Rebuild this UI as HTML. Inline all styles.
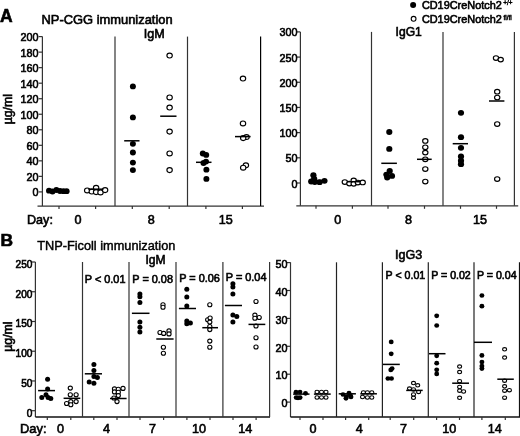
<!DOCTYPE html>
<html><head><meta charset="utf-8"><style>
html,body{margin:0;padding:0;background:#fff;}
body{width:520px;height:436px;overflow:hidden;}
svg{display:block;font-family:"Liberation Sans", sans-serif;fill:#000;}
body{-webkit-font-smoothing:antialiased;}
#wrap{transform:translateZ(0);will-change:transform;}
text{fill:#000;stroke:#000;stroke-width:0.6px;}
</style></head><body>
<div id="wrap"><svg width="520" height="436" viewBox="0 0 520 436">
<rect width="520" height="436" fill="#fff"/>
<text x="0" y="21.5" font-size="17.5" text-anchor="start" font-weight="bold" >A</text>
<text x="41.5" y="23.8" font-size="12.9" text-anchor="start" font-weight="normal" >NP-CGG immunization</text>
<text x="143.7" y="37.8" font-size="12.6" text-anchor="start" font-weight="normal" >IgM</text>
<text x="395.6" y="36.2" font-size="12.1" text-anchor="start" font-weight="normal" >IgG1</text>
<circle cx="413.1" cy="4.9" r="3" fill="#000"/>
<text x="421.9" y="9.2" font-size="10.9" text-anchor="start" font-weight="normal" >CD19CreNotch2</text>
<text x="503.3" y="5.4" font-size="6.4" text-anchor="start" font-weight="normal" style="stroke-width:0.45px">+/+</text>
<circle cx="413.6" cy="18.8" r="2.4" fill="#fff" stroke="#000" stroke-width="1.1"/>
<text x="421.9" y="23.0" font-size="10.9" text-anchor="start" font-weight="normal" >CD19CreNotch2</text>
<text x="503.6" y="19.8" font-size="6.4" text-anchor="start" font-weight="normal" style="stroke-width:0.45px">fl/fl</text>
<line x1="42.4" y1="36.6" x2="42.4" y2="206.1" stroke="#333" stroke-width="1.2"/>
<line x1="37.5" y1="206.1" x2="264" y2="206.1" stroke="#333" stroke-width="1.2"/>
<line x1="115" y1="36.6" x2="115" y2="206.1" stroke="#333" stroke-width="1.2"/>
<line x1="187.5" y1="36.6" x2="187.5" y2="206.1" stroke="#333" stroke-width="1.2"/>
<line x1="260.6" y1="36.6" x2="260.6" y2="206.1" stroke="#000" stroke-width="1.2"/>
<line x1="59.0" y1="206.1" x2="59.0" y2="209.1" stroke="#333" stroke-width="1.2"/>
<line x1="95.6" y1="206.1" x2="95.6" y2="209.1" stroke="#333" stroke-width="1.2"/>
<line x1="132.3" y1="206.1" x2="132.3" y2="209.1" stroke="#333" stroke-width="1.2"/>
<line x1="169.2" y1="206.1" x2="169.2" y2="209.1" stroke="#333" stroke-width="1.2"/>
<line x1="205.9" y1="206.1" x2="205.9" y2="209.1" stroke="#333" stroke-width="1.2"/>
<line x1="242.4" y1="206.1" x2="242.4" y2="209.1" stroke="#333" stroke-width="1.2"/>
<line x1="38.6" y1="191.9" x2="42.4" y2="191.9" stroke="#333" stroke-width="1.2"/>
<text x="38.6" y="196.3" font-size="10.8" text-anchor="end" font-weight="normal" >0</text>
<line x1="38.6" y1="176.37" x2="42.4" y2="176.37" stroke="#333" stroke-width="1.2"/>
<text x="38.6" y="180.77" font-size="10.8" text-anchor="end" font-weight="normal" >20</text>
<line x1="38.6" y1="160.84" x2="42.4" y2="160.84" stroke="#333" stroke-width="1.2"/>
<text x="38.6" y="165.24" font-size="10.8" text-anchor="end" font-weight="normal" >40</text>
<line x1="38.6" y1="145.31" x2="42.4" y2="145.31" stroke="#333" stroke-width="1.2"/>
<text x="38.6" y="149.71" font-size="10.8" text-anchor="end" font-weight="normal" >60</text>
<line x1="38.6" y1="129.78" x2="42.4" y2="129.78" stroke="#333" stroke-width="1.2"/>
<text x="38.6" y="134.18" font-size="10.8" text-anchor="end" font-weight="normal" >80</text>
<line x1="38.6" y1="114.25000000000001" x2="42.4" y2="114.25000000000001" stroke="#333" stroke-width="1.2"/>
<text x="38.6" y="118.65" font-size="10.8" text-anchor="end" font-weight="normal" >100</text>
<line x1="38.6" y1="98.72000000000001" x2="42.4" y2="98.72000000000001" stroke="#333" stroke-width="1.2"/>
<text x="38.6" y="103.12" font-size="10.8" text-anchor="end" font-weight="normal" >120</text>
<line x1="38.6" y1="83.19000000000001" x2="42.4" y2="83.19000000000001" stroke="#333" stroke-width="1.2"/>
<text x="38.6" y="87.59" font-size="10.8" text-anchor="end" font-weight="normal" >140</text>
<line x1="38.6" y1="67.66000000000001" x2="42.4" y2="67.66000000000001" stroke="#333" stroke-width="1.2"/>
<text x="38.6" y="72.06" font-size="10.8" text-anchor="end" font-weight="normal" >160</text>
<line x1="38.6" y1="52.130000000000024" x2="42.4" y2="52.130000000000024" stroke="#333" stroke-width="1.2"/>
<text x="38.6" y="56.53" font-size="10.8" text-anchor="end" font-weight="normal" >180</text>
<line x1="38.6" y1="36.60000000000002" x2="42.4" y2="36.60000000000002" stroke="#333" stroke-width="1.2"/>
<text x="38.6" y="41.0" font-size="10.8" text-anchor="end" font-weight="normal" >200</text>
<line x1="300.4" y1="31.9" x2="300.4" y2="205.8" stroke="#333" stroke-width="1.2"/>
<line x1="296.3" y1="205.8" x2="518.2" y2="205.8" stroke="#333" stroke-width="1.2"/>
<line x1="371.5" y1="31.9" x2="371.5" y2="205.8" stroke="#333" stroke-width="1.2"/>
<line x1="443.0" y1="31.9" x2="443.0" y2="205.8" stroke="#333" stroke-width="1.2"/>
<line x1="514.4" y1="31.9" x2="514.4" y2="205.8" stroke="#333" stroke-width="1.2"/>
<line x1="316.0" y1="205.8" x2="316.0" y2="208.8" stroke="#333" stroke-width="1.2"/>
<line x1="352.4" y1="205.8" x2="352.4" y2="208.8" stroke="#333" stroke-width="1.2"/>
<line x1="388.0" y1="205.8" x2="388.0" y2="208.8" stroke="#333" stroke-width="1.2"/>
<line x1="424.5" y1="205.8" x2="424.5" y2="208.8" stroke="#333" stroke-width="1.2"/>
<line x1="460.5" y1="205.8" x2="460.5" y2="208.8" stroke="#333" stroke-width="1.2"/>
<line x1="496.5" y1="205.8" x2="496.5" y2="208.8" stroke="#333" stroke-width="1.2"/>
<line x1="296.59999999999997" y1="183.0" x2="300.4" y2="183.0" stroke="#333" stroke-width="1.2"/>
<text x="297.6" y="187.6" font-size="10.8" text-anchor="end" font-weight="normal" >0</text>
<line x1="296.59999999999997" y1="157.815" x2="300.4" y2="157.815" stroke="#333" stroke-width="1.2"/>
<text x="297.6" y="162.41" font-size="10.8" text-anchor="end" font-weight="normal" >50</text>
<line x1="296.59999999999997" y1="132.63" x2="300.4" y2="132.63" stroke="#333" stroke-width="1.2"/>
<text x="297.6" y="137.23" font-size="10.8" text-anchor="end" font-weight="normal" >100</text>
<line x1="296.59999999999997" y1="107.445" x2="300.4" y2="107.445" stroke="#333" stroke-width="1.2"/>
<text x="297.6" y="112.04" font-size="10.8" text-anchor="end" font-weight="normal" >150</text>
<line x1="296.59999999999997" y1="82.25999999999999" x2="300.4" y2="82.25999999999999" stroke="#333" stroke-width="1.2"/>
<text x="297.6" y="86.86" font-size="10.8" text-anchor="end" font-weight="normal" >200</text>
<line x1="296.59999999999997" y1="57.07499999999999" x2="300.4" y2="57.07499999999999" stroke="#333" stroke-width="1.2"/>
<text x="297.6" y="61.67" font-size="10.8" text-anchor="end" font-weight="normal" >250</text>
<line x1="296.59999999999997" y1="31.889999999999986" x2="300.4" y2="31.889999999999986" stroke="#333" stroke-width="1.2"/>
<text x="297.6" y="36.49" font-size="10.8" text-anchor="end" font-weight="normal" >300</text>
<text x="27" y="223.6" font-size="12.6" text-anchor="start" font-weight="normal" >Day:</text>
<text x="78.1" y="223.6" font-size="12.6" text-anchor="middle" font-weight="normal" >0</text>
<text x="151.25" y="223.6" font-size="12.6" text-anchor="middle" font-weight="normal" >8</text>
<text x="225.7" y="223.6" font-size="12.6" text-anchor="middle" font-weight="normal" >15</text>
<text x="337.75" y="223.6" font-size="12.6" text-anchor="middle" font-weight="normal" >0</text>
<text x="408.5" y="223.6" font-size="12.6" text-anchor="middle" font-weight="normal" >8</text>
<text x="480.1" y="223.6" font-size="12.6" text-anchor="middle" font-weight="normal" >15</text>
<text transform="translate(12,109.2) rotate(-90)" font-size="12.3" text-anchor="middle">µg/ml</text>
<text transform="translate(11.5,336.6) rotate(-90)" font-size="12.3" text-anchor="middle">µg/ml</text>
<ellipse cx="49" cy="190.7" rx="3.0" ry="2.9" fill="#000"/>
<ellipse cx="52.5" cy="191.5" rx="3.0" ry="2.9" fill="#000"/>
<ellipse cx="56.4" cy="190" rx="3.0" ry="2.9" fill="#000"/>
<ellipse cx="60" cy="191" rx="3.0" ry="2.9" fill="#000"/>
<ellipse cx="63.5" cy="191.2" rx="3.0" ry="2.9" fill="#000"/>
<ellipse cx="66.6" cy="191.2" rx="3.0" ry="2.9" fill="#000"/>
<line x1="47" y1="190.8" x2="68" y2="190.8" stroke="#000" stroke-width="1.5"/>
<ellipse cx="87.2" cy="190.4" rx="2.7" ry="2.45" fill="#fff" stroke="#000" stroke-width="1.15"/>
<ellipse cx="91.8" cy="191.5" rx="2.7" ry="2.45" fill="#fff" stroke="#000" stroke-width="1.15"/>
<ellipse cx="96.1" cy="187.8" rx="2.7" ry="2.45" fill="#fff" stroke="#000" stroke-width="1.15"/>
<ellipse cx="96.1" cy="192.1" rx="2.7" ry="2.45" fill="#fff" stroke="#000" stroke-width="1.15"/>
<ellipse cx="100.5" cy="192.4" rx="2.7" ry="2.45" fill="#fff" stroke="#000" stroke-width="1.15"/>
<ellipse cx="105.1" cy="190.1" rx="2.7" ry="2.45" fill="#fff" stroke="#000" stroke-width="1.15"/>
<line x1="88.3" y1="189.2" x2="103.4" y2="189.2" stroke="#000" stroke-width="1.5"/>
<ellipse cx="132.9" cy="86.4" rx="3.0" ry="2.9" fill="#000"/>
<ellipse cx="132.9" cy="117.4" rx="3.0" ry="2.9" fill="#000"/>
<ellipse cx="132.9" cy="143.8" rx="3.0" ry="2.9" fill="#000"/>
<ellipse cx="132.9" cy="152.5" rx="3.0" ry="2.9" fill="#000"/>
<ellipse cx="132.9" cy="162.6" rx="3.0" ry="2.9" fill="#000"/>
<ellipse cx="132.9" cy="170.1" rx="3.0" ry="2.9" fill="#000"/>
<line x1="124.2" y1="140.8" x2="139.5" y2="140.8" stroke="#000" stroke-width="1.5"/>
<ellipse cx="169.6" cy="55.5" rx="2.7" ry="2.45" fill="#fff" stroke="#000" stroke-width="1.15"/>
<ellipse cx="169.6" cy="97.4" rx="2.7" ry="2.45" fill="#fff" stroke="#000" stroke-width="1.15"/>
<ellipse cx="169.6" cy="107.5" rx="2.7" ry="2.45" fill="#fff" stroke="#000" stroke-width="1.15"/>
<ellipse cx="169.6" cy="131.6" rx="2.7" ry="2.45" fill="#fff" stroke="#000" stroke-width="1.15"/>
<ellipse cx="169.6" cy="153.4" rx="2.7" ry="2.45" fill="#fff" stroke="#000" stroke-width="1.15"/>
<ellipse cx="169.6" cy="170.1" rx="2.7" ry="2.45" fill="#fff" stroke="#000" stroke-width="1.15"/>
<line x1="160.2" y1="116.2" x2="176.5" y2="116.2" stroke="#000" stroke-width="1.5"/>
<ellipse cx="202.8" cy="153.5" rx="3.0" ry="2.9" fill="#000"/>
<ellipse cx="206.2" cy="154.9" rx="3.0" ry="2.9" fill="#000"/>
<ellipse cx="206" cy="161.6" rx="3.0" ry="2.9" fill="#000"/>
<ellipse cx="203.5" cy="163" rx="3.0" ry="2.9" fill="#000"/>
<ellipse cx="206.4" cy="169.7" rx="3.0" ry="2.9" fill="#000"/>
<ellipse cx="206.4" cy="178.9" rx="3.0" ry="2.9" fill="#000"/>
<line x1="196" y1="162.3" x2="211.5" y2="162.3" stroke="#000" stroke-width="1.5"/>
<ellipse cx="243" cy="78.5" rx="2.7" ry="2.45" fill="#fff" stroke="#000" stroke-width="1.15"/>
<ellipse cx="243" cy="123.4" rx="2.7" ry="2.45" fill="#fff" stroke="#000" stroke-width="1.15"/>
<ellipse cx="246.5" cy="137" rx="2.7" ry="2.45" fill="#fff" stroke="#000" stroke-width="1.15"/>
<ellipse cx="243.2" cy="138.1" rx="2.7" ry="2.45" fill="#fff" stroke="#000" stroke-width="1.15"/>
<ellipse cx="245.9" cy="165.3" rx="2.7" ry="2.45" fill="#fff" stroke="#000" stroke-width="1.15"/>
<ellipse cx="243.2" cy="167.7" rx="2.7" ry="2.45" fill="#fff" stroke="#000" stroke-width="1.15"/>
<line x1="235" y1="136.6" x2="250.6" y2="136.6" stroke="#000" stroke-width="1.5"/>
<ellipse cx="313.4" cy="175.2" rx="3.1" ry="2.9" fill="#000"/>
<ellipse cx="314.2" cy="178.8" rx="3.1" ry="2.9" fill="#000"/>
<ellipse cx="311.2" cy="181.5" rx="3.1" ry="2.9" fill="#000"/>
<ellipse cx="314.8" cy="182" rx="3.1" ry="2.9" fill="#000"/>
<ellipse cx="319.6" cy="182.2" rx="3.1" ry="2.9" fill="#000"/>
<ellipse cx="324.5" cy="180.8" rx="3.1" ry="2.9" fill="#000"/>
<line x1="310" y1="180.5" x2="322" y2="180.5" stroke="#000" stroke-width="1.5"/>
<ellipse cx="344.8" cy="182" rx="2.65" ry="2.3" fill="#fff" stroke="#000" stroke-width="1.15"/>
<ellipse cx="349.4" cy="183.5" rx="2.65" ry="2.3" fill="#fff" stroke="#000" stroke-width="1.15"/>
<ellipse cx="353.7" cy="180.4" rx="2.65" ry="2.3" fill="#fff" stroke="#000" stroke-width="1.15"/>
<ellipse cx="353.7" cy="183.8" rx="2.65" ry="2.3" fill="#fff" stroke="#000" stroke-width="1.15"/>
<ellipse cx="357.9" cy="182.5" rx="2.65" ry="2.3" fill="#fff" stroke="#000" stroke-width="1.15"/>
<ellipse cx="362.7" cy="182.4" rx="2.65" ry="2.3" fill="#fff" stroke="#000" stroke-width="1.15"/>
<line x1="347" y1="181.7" x2="360.5" y2="181.7" stroke="#000" stroke-width="1.5"/>
<ellipse cx="389.3" cy="132" rx="3.1" ry="2.9" fill="#000"/>
<ellipse cx="389.3" cy="148.9" rx="3.1" ry="2.9" fill="#000"/>
<ellipse cx="389.7" cy="171" rx="3.1" ry="2.9" fill="#000"/>
<ellipse cx="386.4" cy="174.6" rx="3.1" ry="2.9" fill="#000"/>
<ellipse cx="392" cy="175.9" rx="3.1" ry="2.9" fill="#000"/>
<ellipse cx="387.2" cy="177.5" rx="3.1" ry="2.9" fill="#000"/>
<line x1="381.3" y1="163.3" x2="396.9" y2="163.3" stroke="#000" stroke-width="1.5"/>
<ellipse cx="425.3" cy="140.9" rx="2.65" ry="2.3" fill="#fff" stroke="#000" stroke-width="1.15"/>
<ellipse cx="425.3" cy="147.3" rx="2.65" ry="2.3" fill="#fff" stroke="#000" stroke-width="1.15"/>
<ellipse cx="425.3" cy="152.6" rx="2.65" ry="2.3" fill="#fff" stroke="#000" stroke-width="1.15"/>
<ellipse cx="425.3" cy="159.3" rx="2.65" ry="2.3" fill="#fff" stroke="#000" stroke-width="1.15"/>
<ellipse cx="425.3" cy="169" rx="2.65" ry="2.3" fill="#fff" stroke="#000" stroke-width="1.15"/>
<ellipse cx="425.3" cy="181.5" rx="2.65" ry="2.3" fill="#fff" stroke="#000" stroke-width="1.15"/>
<line x1="417" y1="159.3" x2="431.7" y2="159.3" stroke="#000" stroke-width="1.5"/>
<ellipse cx="461" cy="112.8" rx="3.1" ry="2.9" fill="#000"/>
<ellipse cx="461" cy="137.2" rx="3.1" ry="2.9" fill="#000"/>
<ellipse cx="461" cy="147.8" rx="3.1" ry="2.9" fill="#000"/>
<ellipse cx="461" cy="156.5" rx="3.1" ry="2.9" fill="#000"/>
<ellipse cx="461" cy="160.7" rx="3.1" ry="2.9" fill="#000"/>
<ellipse cx="461" cy="164.2" rx="3.1" ry="2.9" fill="#000"/>
<line x1="452.7" y1="143.7" x2="468" y2="143.7" stroke="#000" stroke-width="1.5"/>
<ellipse cx="496" cy="58" rx="2.65" ry="2.3" fill="#fff" stroke="#000" stroke-width="1.15"/>
<ellipse cx="500.7" cy="59.6" rx="2.65" ry="2.3" fill="#fff" stroke="#000" stroke-width="1.15"/>
<ellipse cx="497.2" cy="91.7" rx="2.65" ry="2.3" fill="#fff" stroke="#000" stroke-width="1.15"/>
<ellipse cx="497.2" cy="97.5" rx="2.65" ry="2.3" fill="#fff" stroke="#000" stroke-width="1.15"/>
<ellipse cx="497.2" cy="124.1" rx="2.65" ry="2.3" fill="#fff" stroke="#000" stroke-width="1.15"/>
<ellipse cx="497.2" cy="179" rx="2.65" ry="2.3" fill="#fff" stroke="#000" stroke-width="1.15"/>
<line x1="489" y1="101" x2="504.4" y2="101" stroke="#000" stroke-width="1.5"/>
<text x="0.4" y="245.6" font-size="17.4" text-anchor="start" font-weight="bold" >B</text>
<text x="37.2" y="249.8" font-size="12.75" text-anchor="start" font-weight="normal" style="stroke-width:0.45px">TNP-Ficoll immunization</text>
<text x="145.5" y="263.7" font-size="12.1" text-anchor="start" font-weight="normal" >IgM</text>
<text x="395.1" y="258.5" font-size="12.5" text-anchor="start" font-weight="normal" >IgG3</text>
<line x1="35.4" y1="262.0" x2="35.4" y2="417.0" stroke="#333" stroke-width="1.2"/>
<line x1="35.4" y1="417.0" x2="270" y2="417.0" stroke="#111" stroke-width="1.3"/>
<line x1="82.5" y1="262.0" x2="82.5" y2="417.0" stroke="#333" stroke-width="1.2"/>
<line x1="129.0" y1="262.0" x2="129.0" y2="417.0" stroke="#333" stroke-width="1.2"/>
<line x1="176.0" y1="262.0" x2="176.0" y2="417.0" stroke="#333" stroke-width="1.2"/>
<line x1="222.9" y1="262.0" x2="222.9" y2="417.0" stroke="#333" stroke-width="1.2"/>
<line x1="269.6" y1="262.0" x2="269.6" y2="417.0" stroke="#333" stroke-width="1.2"/>
<line x1="47.3" y1="417.0" x2="47.3" y2="420.0" stroke="#333" stroke-width="1.2"/>
<line x1="70.8" y1="417.0" x2="70.8" y2="420.0" stroke="#333" stroke-width="1.2"/>
<line x1="93.8" y1="417.0" x2="93.8" y2="420.0" stroke="#333" stroke-width="1.2"/>
<line x1="117" y1="417.0" x2="117" y2="420.0" stroke="#333" stroke-width="1.2"/>
<line x1="140" y1="417.0" x2="140" y2="420.0" stroke="#333" stroke-width="1.2"/>
<line x1="163.6" y1="417.0" x2="163.6" y2="420.0" stroke="#333" stroke-width="1.2"/>
<line x1="186.9" y1="417.0" x2="186.9" y2="420.0" stroke="#333" stroke-width="1.2"/>
<line x1="210" y1="417.0" x2="210" y2="420.0" stroke="#333" stroke-width="1.2"/>
<line x1="233" y1="417.0" x2="233" y2="420.0" stroke="#333" stroke-width="1.2"/>
<line x1="256.1" y1="417.0" x2="256.1" y2="420.0" stroke="#333" stroke-width="1.2"/>
<line x1="31.599999999999998" y1="410.7" x2="35.4" y2="410.7" stroke="#333" stroke-width="1.2"/>
<text x="32.4" y="416.7" font-size="10.1" text-anchor="end" font-weight="normal" >0</text>
<line x1="31.599999999999998" y1="380.96" x2="35.4" y2="380.96" stroke="#333" stroke-width="1.2"/>
<text x="32.4" y="386.96" font-size="10.1" text-anchor="end" font-weight="normal" >50</text>
<line x1="31.599999999999998" y1="351.21999999999997" x2="35.4" y2="351.21999999999997" stroke="#333" stroke-width="1.2"/>
<text x="32.4" y="357.22" font-size="10.1" text-anchor="end" font-weight="normal" >100</text>
<line x1="31.599999999999998" y1="321.48" x2="35.4" y2="321.48" stroke="#333" stroke-width="1.2"/>
<text x="32.4" y="327.48" font-size="10.1" text-anchor="end" font-weight="normal" >150</text>
<line x1="31.599999999999998" y1="291.74" x2="35.4" y2="291.74" stroke="#333" stroke-width="1.2"/>
<text x="32.4" y="297.74" font-size="10.1" text-anchor="end" font-weight="normal" >200</text>
<line x1="31.599999999999998" y1="262.0" x2="35.4" y2="262.0" stroke="#333" stroke-width="1.2"/>
<text x="32.4" y="268.0" font-size="10.1" text-anchor="end" font-weight="normal" >250</text>
<line x1="290.5" y1="262.3" x2="290.5" y2="417.0" stroke="#333" stroke-width="1.2"/>
<line x1="290.5" y1="417.0" x2="520" y2="417.0" stroke="#111" stroke-width="1.3"/>
<line x1="336.5" y1="262.3" x2="336.5" y2="417.0" stroke="#222" stroke-width="1.2"/>
<line x1="382.4" y1="262.3" x2="382.4" y2="417.0" stroke="#222" stroke-width="1.2"/>
<line x1="428.3" y1="262.3" x2="428.3" y2="417.0" stroke="#222" stroke-width="1.2"/>
<line x1="474.0" y1="262.3" x2="474.0" y2="417.0" stroke="#222" stroke-width="1.2"/>
<line x1="519.5" y1="262.3" x2="519.5" y2="417.0" stroke="#111" stroke-width="1.2"/>
<line x1="300" y1="417.0" x2="300" y2="420.0" stroke="#333" stroke-width="1.2"/>
<line x1="323" y1="417.0" x2="323" y2="420.0" stroke="#333" stroke-width="1.2"/>
<line x1="345.6" y1="417.0" x2="345.6" y2="420.0" stroke="#333" stroke-width="1.2"/>
<line x1="368.7" y1="417.0" x2="368.7" y2="420.0" stroke="#333" stroke-width="1.2"/>
<line x1="390.2" y1="417.0" x2="390.2" y2="420.0" stroke="#333" stroke-width="1.2"/>
<line x1="413.7" y1="417.0" x2="413.7" y2="420.0" stroke="#333" stroke-width="1.2"/>
<line x1="436.6" y1="417.0" x2="436.6" y2="420.0" stroke="#333" stroke-width="1.2"/>
<line x1="459.5" y1="417.0" x2="459.5" y2="420.0" stroke="#333" stroke-width="1.2"/>
<line x1="481.9" y1="417.0" x2="481.9" y2="420.0" stroke="#333" stroke-width="1.2"/>
<line x1="505.3" y1="417.0" x2="505.3" y2="420.0" stroke="#333" stroke-width="1.2"/>
<line x1="286.7" y1="402.1" x2="290.5" y2="402.1" stroke="#333" stroke-width="1.2"/>
<text x="287.6" y="407.3" font-size="10.8" text-anchor="end" font-weight="normal" >0</text>
<line x1="286.7" y1="374.20000000000005" x2="290.5" y2="374.20000000000005" stroke="#333" stroke-width="1.2"/>
<text x="287.6" y="379.4" font-size="10.8" text-anchor="end" font-weight="normal" >10</text>
<line x1="286.7" y1="346.3" x2="290.5" y2="346.3" stroke="#333" stroke-width="1.2"/>
<text x="287.6" y="351.5" font-size="10.8" text-anchor="end" font-weight="normal" >20</text>
<line x1="286.7" y1="318.40000000000003" x2="290.5" y2="318.40000000000003" stroke="#333" stroke-width="1.2"/>
<text x="287.6" y="323.6" font-size="10.8" text-anchor="end" font-weight="normal" >30</text>
<line x1="286.7" y1="290.5" x2="290.5" y2="290.5" stroke="#333" stroke-width="1.2"/>
<text x="287.6" y="295.7" font-size="10.8" text-anchor="end" font-weight="normal" >40</text>
<line x1="286.7" y1="262.6" x2="290.5" y2="262.6" stroke="#333" stroke-width="1.2"/>
<text x="287.6" y="267.8" font-size="10.8" text-anchor="end" font-weight="normal" >50</text>
<text x="84.8" y="282.9" font-size="10.9" text-anchor="start" font-weight="normal" >P &lt; 0.01</text>
<text x="132.3" y="282.9" font-size="10.9" text-anchor="start" font-weight="normal" >P = 0.08</text>
<text x="179.2" y="281.9" font-size="10.9" text-anchor="start" font-weight="normal" >P = 0.06</text>
<text x="225.8" y="281.3" font-size="10.9" text-anchor="start" font-weight="normal" >P = 0.04</text>
<text x="385.6" y="278.6" font-size="10.6" text-anchor="start" font-weight="normal" >P &lt; 0.01</text>
<text x="431.2" y="278.6" font-size="10.6" text-anchor="start" font-weight="normal" >P = 0.02</text>
<text x="477.0" y="278.6" font-size="10.6" text-anchor="start" font-weight="normal" >P = 0.04</text>
<text x="20" y="432.9" font-size="12.9" text-anchor="start" font-weight="normal" >Day:</text>
<text x="60.5" y="432.9" font-size="12.6" text-anchor="middle" font-weight="normal" >0</text>
<text x="106.5" y="432.9" font-size="12.6" text-anchor="middle" font-weight="normal" >4</text>
<text x="152.5" y="432.9" font-size="12.6" text-anchor="middle" font-weight="normal" >7</text>
<text x="199" y="432.9" font-size="12.6" text-anchor="middle" font-weight="normal" >10</text>
<text x="245.2" y="432.9" font-size="12.6" text-anchor="middle" font-weight="normal" >14</text>
<text x="313" y="432.9" font-size="12.6" text-anchor="middle" font-weight="normal" >0</text>
<text x="359.2" y="432.9" font-size="12.6" text-anchor="middle" font-weight="normal" >4</text>
<text x="403.6" y="432.9" font-size="12.6" text-anchor="middle" font-weight="normal" >7</text>
<text x="449.2" y="432.9" font-size="12.6" text-anchor="middle" font-weight="normal" >10</text>
<text x="494.8" y="432.9" font-size="12.6" text-anchor="middle" font-weight="normal" >14</text>
<ellipse cx="47.6" cy="379.3" rx="2.5" ry="2.5" fill="#000"/>
<ellipse cx="47.6" cy="389" rx="2.5" ry="2.5" fill="#000"/>
<ellipse cx="46" cy="394.8" rx="2.5" ry="2.5" fill="#000"/>
<ellipse cx="41.8" cy="397.6" rx="2.5" ry="2.5" fill="#000"/>
<ellipse cx="48.1" cy="397.6" rx="2.5" ry="2.5" fill="#000"/>
<ellipse cx="50.8" cy="398.5" rx="2.5" ry="2.5" fill="#000"/>
<line x1="38.1" y1="390.6" x2="55" y2="390.6" stroke="#000" stroke-width="1.5"/>
<ellipse cx="70.3" cy="388.1" rx="2.1" ry="2.0" fill="#fff" stroke="#000" stroke-width="1.1"/>
<ellipse cx="70.3" cy="394.8" rx="2.1" ry="2.0" fill="#fff" stroke="#000" stroke-width="1.1"/>
<ellipse cx="76.1" cy="394.8" rx="2.1" ry="2.0" fill="#fff" stroke="#000" stroke-width="1.1"/>
<ellipse cx="66.6" cy="403.5" rx="2.1" ry="2.0" fill="#fff" stroke="#000" stroke-width="1.1"/>
<ellipse cx="70.8" cy="401.6" rx="2.1" ry="2.0" fill="#fff" stroke="#000" stroke-width="1.1"/>
<ellipse cx="70.8" cy="404.8" rx="2.1" ry="2.0" fill="#fff" stroke="#000" stroke-width="1.1"/>
<ellipse cx="76.1" cy="401.6" rx="2.1" ry="2.0" fill="#fff" stroke="#000" stroke-width="1.1"/>
<line x1="63.6" y1="398.3" x2="80.3" y2="398.3" stroke="#000" stroke-width="1.5"/>
<ellipse cx="93.9" cy="364.6" rx="2.5" ry="2.5" fill="#000"/>
<ellipse cx="93.9" cy="370.5" rx="2.5" ry="2.5" fill="#000"/>
<ellipse cx="93.9" cy="376.5" rx="2.5" ry="2.5" fill="#000"/>
<ellipse cx="97.4" cy="377.6" rx="2.5" ry="2.5" fill="#000"/>
<ellipse cx="89.2" cy="382" rx="2.5" ry="2.5" fill="#000"/>
<ellipse cx="93.9" cy="383.3" rx="2.5" ry="2.5" fill="#000"/>
<line x1="84.8" y1="373.8" x2="102" y2="373.8" stroke="#000" stroke-width="1.5"/>
<ellipse cx="114.5" cy="388.9" rx="2.1" ry="2.0" fill="#fff" stroke="#000" stroke-width="1.1"/>
<ellipse cx="118.3" cy="389.2" rx="2.1" ry="2.0" fill="#fff" stroke="#000" stroke-width="1.1"/>
<ellipse cx="123" cy="388.4" rx="2.1" ry="2.0" fill="#fff" stroke="#000" stroke-width="1.1"/>
<ellipse cx="114.5" cy="391.9" rx="2.1" ry="2.0" fill="#fff" stroke="#000" stroke-width="1.1"/>
<ellipse cx="118.3" cy="392.2" rx="2.1" ry="2.0" fill="#fff" stroke="#000" stroke-width="1.1"/>
<ellipse cx="118.3" cy="395.6" rx="2.1" ry="2.0" fill="#fff" stroke="#000" stroke-width="1.1"/>
<ellipse cx="113.9" cy="398" rx="2.1" ry="2.0" fill="#fff" stroke="#000" stroke-width="1.1"/>
<ellipse cx="117" cy="401.6" rx="2.1" ry="2.0" fill="#fff" stroke="#000" stroke-width="1.1"/>
<line x1="110" y1="398.5" x2="126.6" y2="398.5" stroke="#000" stroke-width="1.5"/>
<ellipse cx="139.9" cy="294" rx="2.5" ry="2.5" fill="#000"/>
<ellipse cx="139.9" cy="296.7" rx="2.5" ry="2.5" fill="#000"/>
<ellipse cx="139.9" cy="302.5" rx="2.5" ry="2.5" fill="#000"/>
<ellipse cx="139.9" cy="322.1" rx="2.5" ry="2.5" fill="#000"/>
<ellipse cx="139.9" cy="327.2" rx="2.5" ry="2.5" fill="#000"/>
<ellipse cx="139.9" cy="332" rx="2.5" ry="2.5" fill="#000"/>
<line x1="131.9" y1="313.3" x2="149.5" y2="313.3" stroke="#000" stroke-width="1.5"/>
<ellipse cx="163" cy="304.8" rx="2.1" ry="2.0" fill="#fff" stroke="#000" stroke-width="1.1"/>
<ellipse cx="163" cy="307.3" rx="2.1" ry="2.0" fill="#fff" stroke="#000" stroke-width="1.1"/>
<ellipse cx="160" cy="332.5" rx="2.1" ry="2.0" fill="#fff" stroke="#000" stroke-width="1.1"/>
<ellipse cx="163.7" cy="333.4" rx="2.1" ry="2.0" fill="#fff" stroke="#000" stroke-width="1.1"/>
<ellipse cx="169" cy="330.9" rx="2.1" ry="2.0" fill="#fff" stroke="#000" stroke-width="1.1"/>
<ellipse cx="169" cy="333.9" rx="2.1" ry="2.0" fill="#fff" stroke="#000" stroke-width="1.1"/>
<ellipse cx="163.4" cy="347.3" rx="2.1" ry="2.0" fill="#fff" stroke="#000" stroke-width="1.1"/>
<ellipse cx="163.4" cy="353.2" rx="2.1" ry="2.0" fill="#fff" stroke="#000" stroke-width="1.1"/>
<line x1="156.3" y1="339" x2="173.6" y2="339" stroke="#000" stroke-width="1.5"/>
<ellipse cx="186.8" cy="289.2" rx="2.5" ry="2.5" fill="#000"/>
<ellipse cx="186.8" cy="296.9" rx="2.5" ry="2.5" fill="#000"/>
<ellipse cx="186.8" cy="306.1" rx="2.5" ry="2.5" fill="#000"/>
<ellipse cx="186.8" cy="321" rx="2.5" ry="2.5" fill="#000"/>
<ellipse cx="190.4" cy="322.9" rx="2.5" ry="2.5" fill="#000"/>
<ellipse cx="186.8" cy="323.7" rx="2.5" ry="2.5" fill="#000"/>
<line x1="178.9" y1="308.5" x2="196" y2="308.5" stroke="#000" stroke-width="1.5"/>
<ellipse cx="209.8" cy="304.8" rx="2.1" ry="2.0" fill="#fff" stroke="#000" stroke-width="1.1"/>
<ellipse cx="207.7" cy="319.7" rx="2.1" ry="2.0" fill="#fff" stroke="#000" stroke-width="1.1"/>
<ellipse cx="210.1" cy="318" rx="2.1" ry="2.0" fill="#fff" stroke="#000" stroke-width="1.1"/>
<ellipse cx="209.8" cy="322.1" rx="2.1" ry="2.0" fill="#fff" stroke="#000" stroke-width="1.1"/>
<ellipse cx="209.8" cy="326.5" rx="2.1" ry="2.0" fill="#fff" stroke="#000" stroke-width="1.1"/>
<ellipse cx="209.8" cy="329.6" rx="2.1" ry="2.0" fill="#fff" stroke="#000" stroke-width="1.1"/>
<ellipse cx="209.8" cy="341.1" rx="2.1" ry="2.0" fill="#fff" stroke="#000" stroke-width="1.1"/>
<ellipse cx="209.8" cy="347.3" rx="2.1" ry="2.0" fill="#fff" stroke="#000" stroke-width="1.1"/>
<line x1="202.3" y1="327.7" x2="218" y2="327.7" stroke="#000" stroke-width="1.5"/>
<ellipse cx="232.9" cy="283.8" rx="2.5" ry="2.5" fill="#000"/>
<ellipse cx="232.9" cy="287" rx="2.5" ry="2.5" fill="#000"/>
<ellipse cx="232.9" cy="294" rx="2.5" ry="2.5" fill="#000"/>
<ellipse cx="232.9" cy="315.1" rx="2.5" ry="2.5" fill="#000"/>
<ellipse cx="236.8" cy="316.4" rx="2.5" ry="2.5" fill="#000"/>
<ellipse cx="232.9" cy="321.9" rx="2.5" ry="2.5" fill="#000"/>
<line x1="224.9" y1="305.5" x2="242" y2="305.5" stroke="#000" stroke-width="1.5"/>
<ellipse cx="256" cy="301.5" rx="2.1" ry="2.0" fill="#fff" stroke="#000" stroke-width="1.1"/>
<ellipse cx="254.9" cy="315.1" rx="2.1" ry="2.0" fill="#fff" stroke="#000" stroke-width="1.1"/>
<ellipse cx="259.2" cy="317.5" rx="2.1" ry="2.0" fill="#fff" stroke="#000" stroke-width="1.1"/>
<ellipse cx="254.9" cy="318.3" rx="2.1" ry="2.0" fill="#fff" stroke="#000" stroke-width="1.1"/>
<ellipse cx="256" cy="326" rx="2.1" ry="2.0" fill="#fff" stroke="#000" stroke-width="1.1"/>
<ellipse cx="256" cy="337.8" rx="2.1" ry="2.0" fill="#fff" stroke="#000" stroke-width="1.1"/>
<ellipse cx="256" cy="347" rx="2.1" ry="2.0" fill="#fff" stroke="#000" stroke-width="1.1"/>
<line x1="248.5" y1="324.4" x2="265.3" y2="324.4" stroke="#000" stroke-width="1.5"/>
<ellipse cx="296" cy="392.2" rx="2.45" ry="2.35" fill="#000"/>
<ellipse cx="300" cy="392" rx="2.45" ry="2.35" fill="#000"/>
<ellipse cx="305.5" cy="393.3" rx="2.45" ry="2.35" fill="#000"/>
<ellipse cx="296.2" cy="397.6" rx="2.45" ry="2.35" fill="#000"/>
<ellipse cx="300.1" cy="397.6" rx="2.45" ry="2.35" fill="#000"/>
<ellipse cx="298" cy="397.8" rx="2.45" ry="2.35" fill="#000"/>
<line x1="293.1" y1="394.1" x2="309.5" y2="394.1" stroke="#000" stroke-width="1.5"/>
<ellipse cx="317" cy="392" rx="2.05" ry="1.7" fill="#fff" stroke="#000" stroke-width="1.1"/>
<ellipse cx="321.5" cy="392" rx="2.05" ry="1.7" fill="#fff" stroke="#000" stroke-width="1.1"/>
<ellipse cx="326" cy="392" rx="2.05" ry="1.7" fill="#fff" stroke="#000" stroke-width="1.1"/>
<ellipse cx="317" cy="397.5" rx="2.05" ry="1.7" fill="#fff" stroke="#000" stroke-width="1.1"/>
<ellipse cx="321.5" cy="397.5" rx="2.05" ry="1.7" fill="#fff" stroke="#000" stroke-width="1.1"/>
<ellipse cx="326" cy="397.5" rx="2.05" ry="1.7" fill="#fff" stroke="#000" stroke-width="1.1"/>
<line x1="313.9" y1="394.1" x2="330.7" y2="394.1" stroke="#000" stroke-width="1.5"/>
<ellipse cx="343" cy="394.5" rx="2.45" ry="2.35" fill="#000"/>
<ellipse cx="346.5" cy="396.5" rx="2.45" ry="2.35" fill="#000"/>
<ellipse cx="349" cy="393" rx="2.45" ry="2.35" fill="#000"/>
<ellipse cx="350.5" cy="395.5" rx="2.45" ry="2.35" fill="#000"/>
<ellipse cx="346" cy="398.3" rx="2.45" ry="2.35" fill="#000"/>
<ellipse cx="351" cy="397" rx="2.45" ry="2.35" fill="#000"/>
<line x1="338.7" y1="393.8" x2="355.9" y2="393.8" stroke="#000" stroke-width="1.5"/>
<ellipse cx="363.4" cy="392.5" rx="2.05" ry="1.7" fill="#fff" stroke="#000" stroke-width="1.1"/>
<ellipse cx="367.4" cy="392.5" rx="2.05" ry="1.7" fill="#fff" stroke="#000" stroke-width="1.1"/>
<ellipse cx="371.8" cy="392.5" rx="2.05" ry="1.7" fill="#fff" stroke="#000" stroke-width="1.1"/>
<ellipse cx="362.5" cy="397" rx="2.05" ry="1.7" fill="#fff" stroke="#000" stroke-width="1.1"/>
<ellipse cx="367.4" cy="397.5" rx="2.05" ry="1.7" fill="#fff" stroke="#000" stroke-width="1.1"/>
<ellipse cx="371.8" cy="397.5" rx="2.05" ry="1.7" fill="#fff" stroke="#000" stroke-width="1.1"/>
<line x1="360.3" y1="393.8" x2="376.9" y2="393.8" stroke="#000" stroke-width="1.5"/>
<ellipse cx="391.2" cy="341.9" rx="2.45" ry="2.35" fill="#000"/>
<ellipse cx="391.2" cy="353.8" rx="2.45" ry="2.35" fill="#000"/>
<ellipse cx="392.1" cy="368.5" rx="2.45" ry="2.35" fill="#000"/>
<ellipse cx="390.8" cy="369.9" rx="2.45" ry="2.35" fill="#000"/>
<ellipse cx="387.9" cy="378.5" rx="2.45" ry="2.35" fill="#000"/>
<ellipse cx="391.5" cy="378.5" rx="2.45" ry="2.35" fill="#000"/>
<line x1="383" y1="364.4" x2="399.8" y2="364.4" stroke="#000" stroke-width="1.5"/>
<ellipse cx="413.5" cy="383.1" rx="2.05" ry="1.7" fill="#fff" stroke="#000" stroke-width="1.1"/>
<ellipse cx="417.7" cy="385.3" rx="2.05" ry="1.7" fill="#fff" stroke="#000" stroke-width="1.1"/>
<ellipse cx="409.5" cy="388.6" rx="2.05" ry="1.7" fill="#fff" stroke="#000" stroke-width="1.1"/>
<ellipse cx="413.5" cy="389.5" rx="2.05" ry="1.7" fill="#fff" stroke="#000" stroke-width="1.1"/>
<ellipse cx="418.6" cy="391.9" rx="2.05" ry="1.7" fill="#fff" stroke="#000" stroke-width="1.1"/>
<ellipse cx="413.5" cy="394.5" rx="2.05" ry="1.7" fill="#fff" stroke="#000" stroke-width="1.1"/>
<ellipse cx="413.5" cy="397.8" rx="2.05" ry="1.7" fill="#fff" stroke="#000" stroke-width="1.1"/>
<line x1="406.2" y1="390.4" x2="422.7" y2="390.4" stroke="#000" stroke-width="1.5"/>
<ellipse cx="436.7" cy="315.8" rx="2.45" ry="2.35" fill="#000"/>
<ellipse cx="436.7" cy="325.5" rx="2.45" ry="2.35" fill="#000"/>
<ellipse cx="436.7" cy="355.8" rx="2.45" ry="2.35" fill="#000"/>
<ellipse cx="436.7" cy="363.2" rx="2.45" ry="2.35" fill="#000"/>
<ellipse cx="436.7" cy="369.8" rx="2.45" ry="2.35" fill="#000"/>
<ellipse cx="436.7" cy="373.9" rx="2.45" ry="2.35" fill="#000"/>
<line x1="429" y1="353.7" x2="445.5" y2="353.7" stroke="#000" stroke-width="1.5"/>
<ellipse cx="459.6" cy="366.6" rx="2.05" ry="1.7" fill="#fff" stroke="#000" stroke-width="1.1"/>
<ellipse cx="459.6" cy="372.1" rx="2.05" ry="1.7" fill="#fff" stroke="#000" stroke-width="1.1"/>
<ellipse cx="459.6" cy="381.2" rx="2.05" ry="1.7" fill="#fff" stroke="#000" stroke-width="1.1"/>
<ellipse cx="459.6" cy="387" rx="2.05" ry="1.7" fill="#fff" stroke="#000" stroke-width="1.1"/>
<ellipse cx="459.6" cy="390.7" rx="2.05" ry="1.7" fill="#fff" stroke="#000" stroke-width="1.1"/>
<ellipse cx="463.6" cy="391.5" rx="2.05" ry="1.7" fill="#fff" stroke="#000" stroke-width="1.1"/>
<ellipse cx="459.6" cy="397.8" rx="2.05" ry="1.7" fill="#fff" stroke="#000" stroke-width="1.1"/>
<line x1="452.2" y1="383.2" x2="469" y2="383.2" stroke="#000" stroke-width="1.5"/>
<ellipse cx="481.9" cy="295.5" rx="2.45" ry="2.35" fill="#000"/>
<ellipse cx="481.9" cy="306.2" rx="2.45" ry="2.35" fill="#000"/>
<ellipse cx="481.9" cy="355.4" rx="2.45" ry="2.35" fill="#000"/>
<ellipse cx="481.9" cy="362" rx="2.45" ry="2.35" fill="#000"/>
<ellipse cx="481.9" cy="366" rx="2.45" ry="2.35" fill="#000"/>
<ellipse cx="481.9" cy="368.6" rx="2.45" ry="2.35" fill="#000"/>
<line x1="474" y1="342.3" x2="492" y2="342.3" stroke="#000" stroke-width="1.5"/>
<ellipse cx="504.6" cy="349.3" rx="2.05" ry="1.7" fill="#fff" stroke="#000" stroke-width="1.1"/>
<ellipse cx="504.6" cy="357.6" rx="2.05" ry="1.7" fill="#fff" stroke="#000" stroke-width="1.1"/>
<ellipse cx="504.6" cy="380.7" rx="2.05" ry="1.7" fill="#fff" stroke="#000" stroke-width="1.1"/>
<ellipse cx="504.6" cy="386.3" rx="2.05" ry="1.7" fill="#fff" stroke="#000" stroke-width="1.1"/>
<ellipse cx="509.4" cy="390.2" rx="2.05" ry="1.7" fill="#fff" stroke="#000" stroke-width="1.1"/>
<ellipse cx="504.6" cy="390.7" rx="2.05" ry="1.7" fill="#fff" stroke="#000" stroke-width="1.1"/>
<ellipse cx="504.6" cy="397.7" rx="2.05" ry="1.7" fill="#fff" stroke="#000" stroke-width="1.1"/>
<line x1="497.3" y1="379.2" x2="513.8" y2="379.2" stroke="#000" stroke-width="1.5"/>
</svg></div>
</body></html>
